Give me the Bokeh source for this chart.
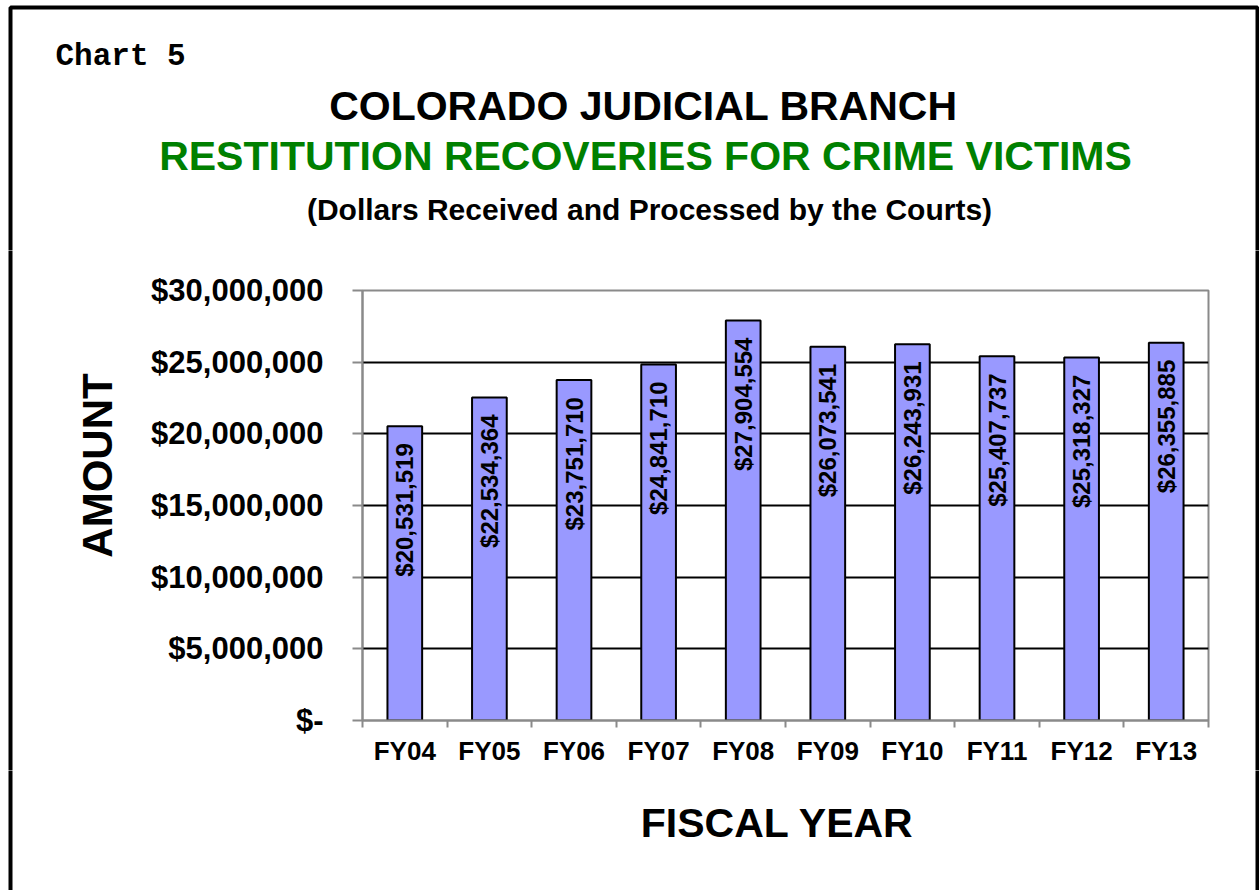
import numpy as np
from bokeh.plotting import figure
from bokeh.layouts import column, row
from bokeh.models import Range1d, FixedTicker, CustomJSTickFormatter
from bokeh.embed import file_html
from bokeh.resources import INLINE
from bokeh.core.properties import value

# ---------------- data ----------------
categories = ["FY04", "FY05", "FY06", "FY07", "FY08", "FY09", "FY10", "FY11", "FY12", "FY13"]
amounts = [20531519, 22534364, 23751710, 24841710, 27904554,
           26073541, 26243931, 25407737, 25318327, 26355885]
y_ticks = [0, 5000000, 10000000, 15000000, 20000000, 25000000, 30000000]
y_tick_labels = ["$-", "$5,000,000", "$10,000,000", "$15,000,000",
                 "$20,000,000", "$25,000,000", "$30,000,000"]
chart_tag = "Chart 5"
title_main = "COLORADO JUDICIAL BRANCH"
title_green = "RESTITUTION RECOVERIES FOR CRIME VICTIMS"
subtitle = "(Dollars Received and Processed by the Courts)"
x_title = "FISCAL YEAR"
y_title = "AMOUNT"

# ---------------- layout (page pixels) ----------------
PW, PH = 1259, 890
F_LEFT, F_RIGHT, F_TOP, F_BOTTOM = 362, 1208, 290, 720   # plot frame
TOP_H = 250           # title strip height
MID_B = 770           # bottom of middle row
L_W = 130             # left strip width
R_X = 1210            # start of right strip
GRAY = "#8a8a8a"
FONT = "Liberation Sans"
BX_L, BX_R, BY_T = 10, 1257, 7   # outer black frame

n = len(categories)
ymax = y_ticks[-1]
centers = [i + 0.5 for i in range(n)]
bounds = list(range(n + 1))
bar_labels = ["${:,}".format(v) for v in amounts]


def blank(x0, x1, y0, y1):
    """Figure whose frame fills the canvas; coordinates are page pixels (y down)."""
    f = figure(width=x1 - x0, height=y1 - y0, output_backend="svg", toolbar_location=None,
               x_range=Range1d(x0, x1), y_range=Range1d(y1, y0),
               x_axis_type=None, y_axis_type=None, frame_align=False,
               min_border_left=0, min_border_right=0, min_border_top=0, min_border_bottom=0)
    f.outline_line_color = None
    f.background_fill_color = "white"
    f.border_fill_color = "white"
    return f


def txt(f, x, y, s, size, color="black", font=FONT, align="center", angle=0):
    f.text(x=[x], y=[y], text=[s], text_font=value(font), text_font_style="bold",
           text_font_size=size, text_color=color, text_align=align,
           text_baseline="middle", angle=angle)


# ---- top strip: titles ----
top = blank(0, PW, 0, TOP_H)
txt(top, 55, 56, chart_tag, "31px", font="Liberation Mono", align="left")
txt(top, 643, 105, title_main, "41px")
txt(top, 645, 155, title_green, "41px", color="#008000")
txt(top, 649, 209, subtitle, "30px")
top.line([BX_L, BX_L, BX_R, BX_R], [TOP_H + 2, BY_T, BY_T, TOP_H + 2], line_width=4, line_color="black")

# ---- left strip: y title ----
left = blank(0, L_W, TOP_H, MID_B)
txt(left, 97, 465, y_title, "42px", angle=np.pi / 2)
left.line([BX_L, BX_L], [TOP_H - 2, MID_B + 2], line_width=4, line_color="black")

# ---- right strip ----
right = blank(R_X, PW, TOP_H, MID_B)
right.line([BX_R, BX_R], [TOP_H - 2, MID_B + 2], line_width=4, line_color="black")

# ---- bottom strip: x title ----
bottom = blank(0, PW, MID_B, PH)
txt(bottom, 777, 822, x_title, "41px")
bottom.line([BX_L, BX_L], [MID_B - 2, PH], line_width=4, line_color="black")
bottom.line([BX_R, BX_R], [MID_B - 2, PH], line_width=4, line_color="black")

# ---- main chart ----
p = figure(width=R_X - L_W, height=MID_B - TOP_H, output_backend="svg", toolbar_location=None,
           x_range=Range1d(0, n), y_range=Range1d(0, ymax), frame_align=False,
           min_border_left=F_LEFT - L_W, min_border_right=R_X - F_RIGHT,
           min_border_top=F_TOP - TOP_H, min_border_bottom=MID_B - F_BOTTOM)
p.background_fill_color = "white"
p.border_fill_color = "white"
p.outline_line_color = GRAY
p.outline_line_width = 2

p.xgrid.grid_line_color = None
p.ygrid.ticker = FixedTicker(ticks=y_ticks[1:-1])
p.ygrid.grid_line_color = "black"
p.ygrid.grid_line_width = 2

p.vbar(x=centers, top=amounts, bottom=0, width=0.41,
       fill_color="#9999FF", line_color="black", line_width=2)

p.text(x=centers, y=amounts, text=bar_labels, angle=np.pi / 2,
       text_align="right", text_baseline="middle", y_offset=17,
       text_font=value(FONT), text_font_style="bold", text_font_size="24px",
       text_color="black")

xa = p.xaxis[0]
xa.ticker = FixedTicker(ticks=centers, minor_ticks=bounds)
xa.formatter = CustomJSTickFormatter(args=dict(cats=categories),
                                     code="return cats[Math.floor(tick)];")
xa.axis_line_color = GRAY
xa.axis_line_width = 2
xa.major_tick_line_color = None
xa.major_tick_out = 7
xa.major_tick_in = 0
xa.minor_tick_line_color = GRAY
xa.minor_tick_line_width = 2
xa.minor_tick_out = 7
xa.minor_tick_in = 0
xa.major_label_text_font = FONT
xa.major_label_text_font_style = "bold"
xa.major_label_text_font_size = "26px"
xa.major_label_text_color = "black"
xa.major_label_standoff = 8

ya = p.yaxis[0]
ya.ticker = FixedTicker(ticks=y_ticks)
ya.formatter = CustomJSTickFormatter(args=dict(tvals=y_ticks, tlabels=y_tick_labels),
                                     code="const i = tvals.indexOf(tick); return i >= 0 ? tlabels[i] : '';")
ya.axis_line_color = GRAY
ya.axis_line_width = 2
ya.major_tick_line_color = GRAY
ya.major_tick_line_width = 2
ya.major_tick_out = 10
ya.major_tick_in = 0
ya.minor_tick_line_color = None
ya.major_label_text_font = FONT
ya.major_label_text_font_style = "bold"
ya.major_label_text_font_size = "31px"
ya.major_label_text_color = "black"
ya.major_label_standoff = 29

layout = column(top, row(left, p, right), bottom)
open("out.html", "w").write(file_html(layout, INLINE))
